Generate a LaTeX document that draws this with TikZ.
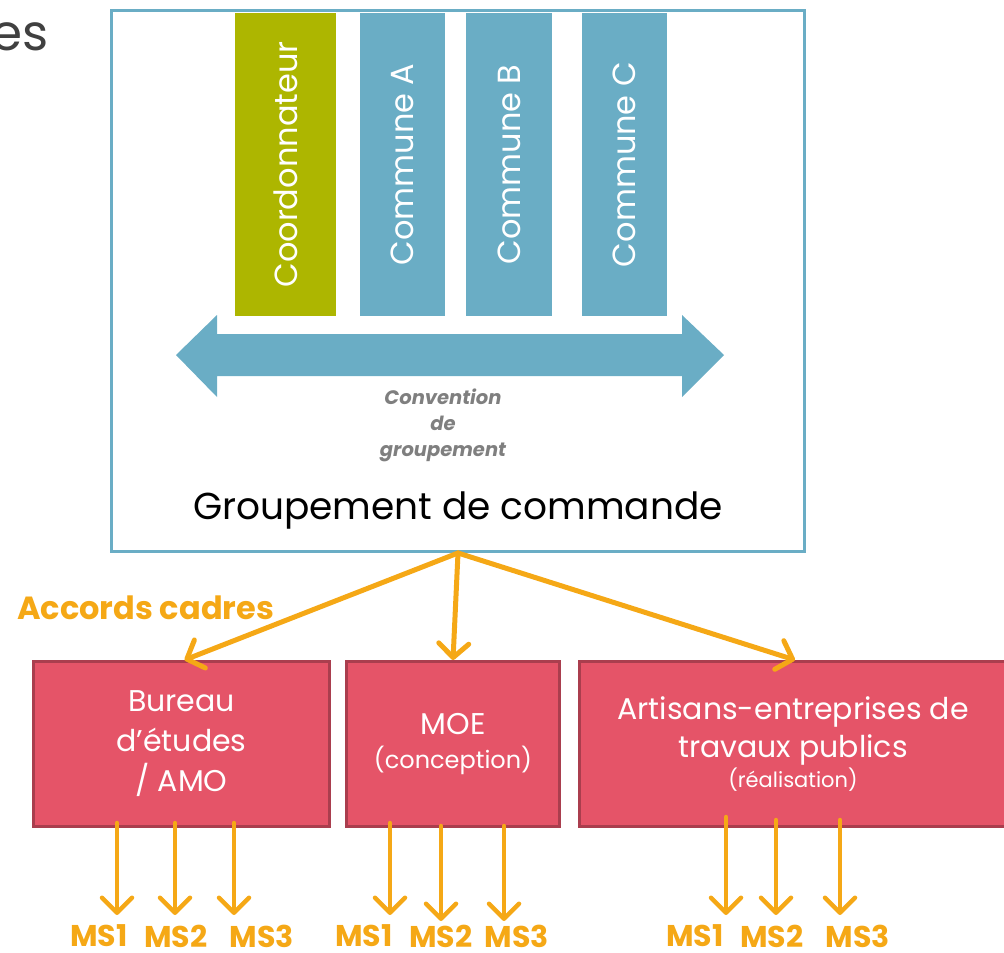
\documentclass[tikz,border=0pt]{standalone}
\usepackage{fontspec}
\setmainfont{Poppins}
\usetikzlibrary{arrows.meta}
\usetikzlibrary{calc}
\usetikzlibrary{positioning}

\definecolor{grpblue}{RGB}{106,173,197}
\definecolor{coordgreen}{RGB}{173,182,0}
\definecolor{lotred}{RGB}{229,84,104}
\definecolor{lotborder}{RGB}{170,62,78}
\definecolor{accordorange}{RGB}{245,168,22}
\definecolor{convgray}{RGB}{127,127,127}
\definecolor{titlegray}{RGB}{64,64,64}

\tikzset{
  frame/.style={draw=grpblue, line width=3pt, minimum width=693pt, minimum height=541pt},
  membre/.style={fill=#1, text=white, rotate=90, minimum width=303pt, inner sep=0pt,
    font=\fontsize{32}{36}\selectfont},
  lot/.style={fill=lotred, draw=lotborder, line width=3pt, minimum height=165pt,
    text=white, align=center, font=\fontsize{30}{40}\selectfont},
  accord/.style={draw=accordorange, line width=5pt, line cap=round,
    -{Straight Barb[length=14pt,width=30pt,round]}},
  msarrow/.style={draw=accordorange, line width=4.5pt, line cap=round,
    -{Straight Barb[length=15pt,width=30pt,round]}},
  ms/.style={text=accordorange, inner sep=0pt, font=\bfseries\fontsize{30}{32}\selectfont}
}

\begin{document}
\begin{tikzpicture}[x=1pt,y=-1pt]
  \useasboundingbox (0,0) rectangle (1004,953);
  % fin du titre
  \node[anchor=base east, text=titlegray, inner sep=0pt, font=\fontsize{50}{50}\selectfont] (titre) at (49,50) {es};

  % groupement de commande
  \node[frame] (grp) at (458,281) {};
  \node[membre=coordgreen, minimum height=101pt] (coord) at (285.5,164.5) {Coordonnateur};
  \node[membre=grpblue, minimum height=85pt] (comA) at (402.5,164.5) {Commune A};
  \node[membre=grpblue, minimum height=86pt] (comB) at (509,164.5) {Commune B};
  \node[membre=grpblue, minimum height=85pt] (comC) at (624.5,164.5) {Commune C};
  \fill[grpblue] (176,355) -- (217,315) -- (217,334) -- (682,334) -- (682,315) -- (724,355)
    -- (682,397) -- (682,376) -- (217,376) -- (217,397) -- cycle;
  \node[align=center, text=convgray, inner sep=0pt,
    font=\bfseries\itshape\fontsize{19.5}{26}\selectfont] (conv) at (443,425) {Convention\\de\\groupement};
  \node[inner sep=0pt, font=\fontsize{37.5}{40}\selectfont] (grptxt) at (458,510) {Groupement de commande};

  % accords cadres
  \node[anchor=west, inner sep=0pt, text=accordorange,
    font=\bfseries\fontsize{32}{34}\selectfont] (accords) at (17,608) {Accords cadres};
  \node[lot, minimum width=296pt] (be) at (181.5,744) {Bureau\\d’études\\/ AMO};
  \node[lot, minimum width=213pt] (moe) at (453,744)
    {MOE\\[-6pt]{\fontsize{24}{26}\selectfont(conception)}};
  \node[lot, minimum width=427pt] (art) at (793,744)
    {Artisans-entreprises de\\[-2pt]travaux publics\\[-10pt]{\fontsize{21}{24}\selectfont(réalisation)}};
  \draw[accord] (grp.south) -- ([xshift=3pt]be.north);
  \draw[accord] (grp.south) -- (moe.north);
  \draw[accord] (grp.south) -- ([xshift=2pt]art.north);

  % marches subsequents
  \draw[msarrow] ([xshift=-64.5pt,yshift=5pt]be.south) -- ++(0,92);
  \draw[msarrow] ([xshift=-6.5pt,yshift=5pt]be.south) -- ++(0,92);
  \draw[msarrow] ([xshift=52.5pt,yshift=5pt]be.south) -- ++(0,92);
  \draw[msarrow] ([xshift=-63pt,yshift=5pt]moe.south) -- ++(0,92);
  \draw[msarrow] ([xshift=-12pt,yshift=2pt]moe.south) -- ++(0,95);
  \draw[msarrow] ([xshift=51pt,yshift=2pt]moe.south) -- ++(0,95);
  \draw[msarrow] ([xshift=-67pt,yshift=11pt]art.south) -- ++(0,98);
  \draw[msarrow] ([xshift=-17pt,yshift=8pt]art.south) -- ++(0,95);
  \draw[msarrow] ([xshift=47pt,yshift=8pt]art.south) -- ++(0,95);
  \node[ms] (ms11) at (99,936) {MS1};
  \node[ms] (ms12) at (176,936) {MS2};
  \node[ms] (ms13) at (262,936) {MS3};
  \node[ms] (ms21) at (364,936) {MS1};
  \node[ms] (ms22) at (441,936) {MS2};
  \node[ms] (ms23) at (517,936) {MS3};
  \node[ms] (ms31) at (695,936) {MS1};
  \node[ms] (ms32) at (772,936) {MS2};
  \node[ms] (ms33) at (858,936) {MS3};
\end{tikzpicture}
\end{document}
